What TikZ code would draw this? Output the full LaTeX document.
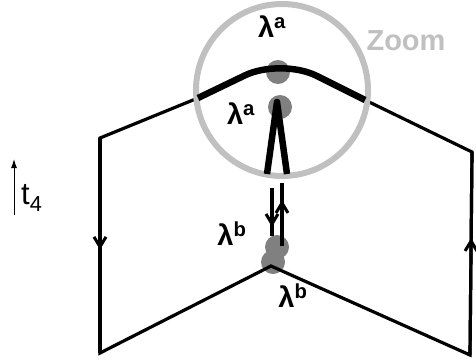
\documentclass[tikz,border=0pt]{standalone}
\usepackage{fontspec}
\setmainfont{Liberation Sans}
\usetikzlibrary{decorations.markings,arrows.meta}
\definecolor{ringgray}{HTML}{C0C0C0}
\definecolor{dotgray}{HTML}{808080}
\begin{document}
\begin{tikzpicture}[x=1pt,y=-1pt,
  frame/.style={line width=3.2pt},
  thickline/.style={line width=6.5pt},
  midarrow/.style={postaction={decorate},decoration={markings,mark=at position #1 with {\arrow{Straight Barb[length=10pt,width=12pt,line width=3pt]}}}},
  lbl/.style={font=\fontsize{29}{29}\selectfont\bfseries, inner sep=0pt},
  dot/.style={circle, fill=dotgray, minimum size=24pt, inner sep=0pt}]
\useasboundingbox (0,0) rectangle (476,360);
% corners
\coordinate (LT) at (100,138);
\coordinate (LB) at (100,353);
\coordinate (RT) at (472,152);
\coordinate (RB) at (470,355);
\coordinate (CL) at (198,98);
\coordinate (CR) at (365,100);
\coordinate (P) at (281,58);
\coordinate (J) at (271,266);
\coordinate (VT) at (277,102);
\coordinate (VL) at (267,174);
\coordinate (VR) at (287,174);
\coordinate (AL1) at (272,188);
\coordinate (AL2) at (272,236);
\coordinate (AR1) at (282,183);
\coordinate (AR2) at (282,246);
\coordinate (T0) at (14,215);
\coordinate (T1) at (14,159);
% dots
\node[dot] (d1) at (278,72) {};
\node[dot] (d2) at (280,107) {};
\node[dot] (d3) at (277,247) {};
\node[dot] (d4) at (273,262) {};
% frame
\draw[frame, line join=miter] (CL) -- (LT) -- (LB) -- (J) -- (RB) -- (RT) -- (CR);
\draw[frame, midarrow=0.52] (LT) -- (LB);
\draw[frame, midarrow=0.576] (RB) -- (RT);
% zoom circle
\node[circle, draw=ringgray, line width=6pt, minimum size=172pt, inner sep=0pt] (zoom) at (282,90) {};
% thick curve and V
\draw[thickline, rounded corners=40pt] (CL) -- (P) -- (CR);
\draw[thickline, line join=round] (VL) -- (VT) -- (VR);
% short lines
\draw[line width=3.5pt, midarrow=0.81] (AL1) -- (AL2);
\draw[line width=3.5pt, midarrow=0.73] (AR2) -- (AR1);
% labels
\node[lbl] (la1) at (272,27) {λ\textsuperscript{a}};
\node[lbl] (la2) at (241,114) {λ\textsuperscript{a}};
\node[lbl] (lb1) at (232,234) {λ\textsuperscript{b}};
\node[lbl] (lb2) at (293,296) {λ\textsuperscript{b}};
\node[lbl, text=ringgray] (zl) at (406,41) {Zoom};
% time arrow
\draw[-{Latex[length=9pt,width=6pt]}, line width=1pt] (T0) -- (T1);
\node[inner sep=0pt, anchor=west] (t4) at (21,198) {\fontsize{31}{31}\selectfont t\textsubscript{4}};
\end{tikzpicture}
\end{document}
